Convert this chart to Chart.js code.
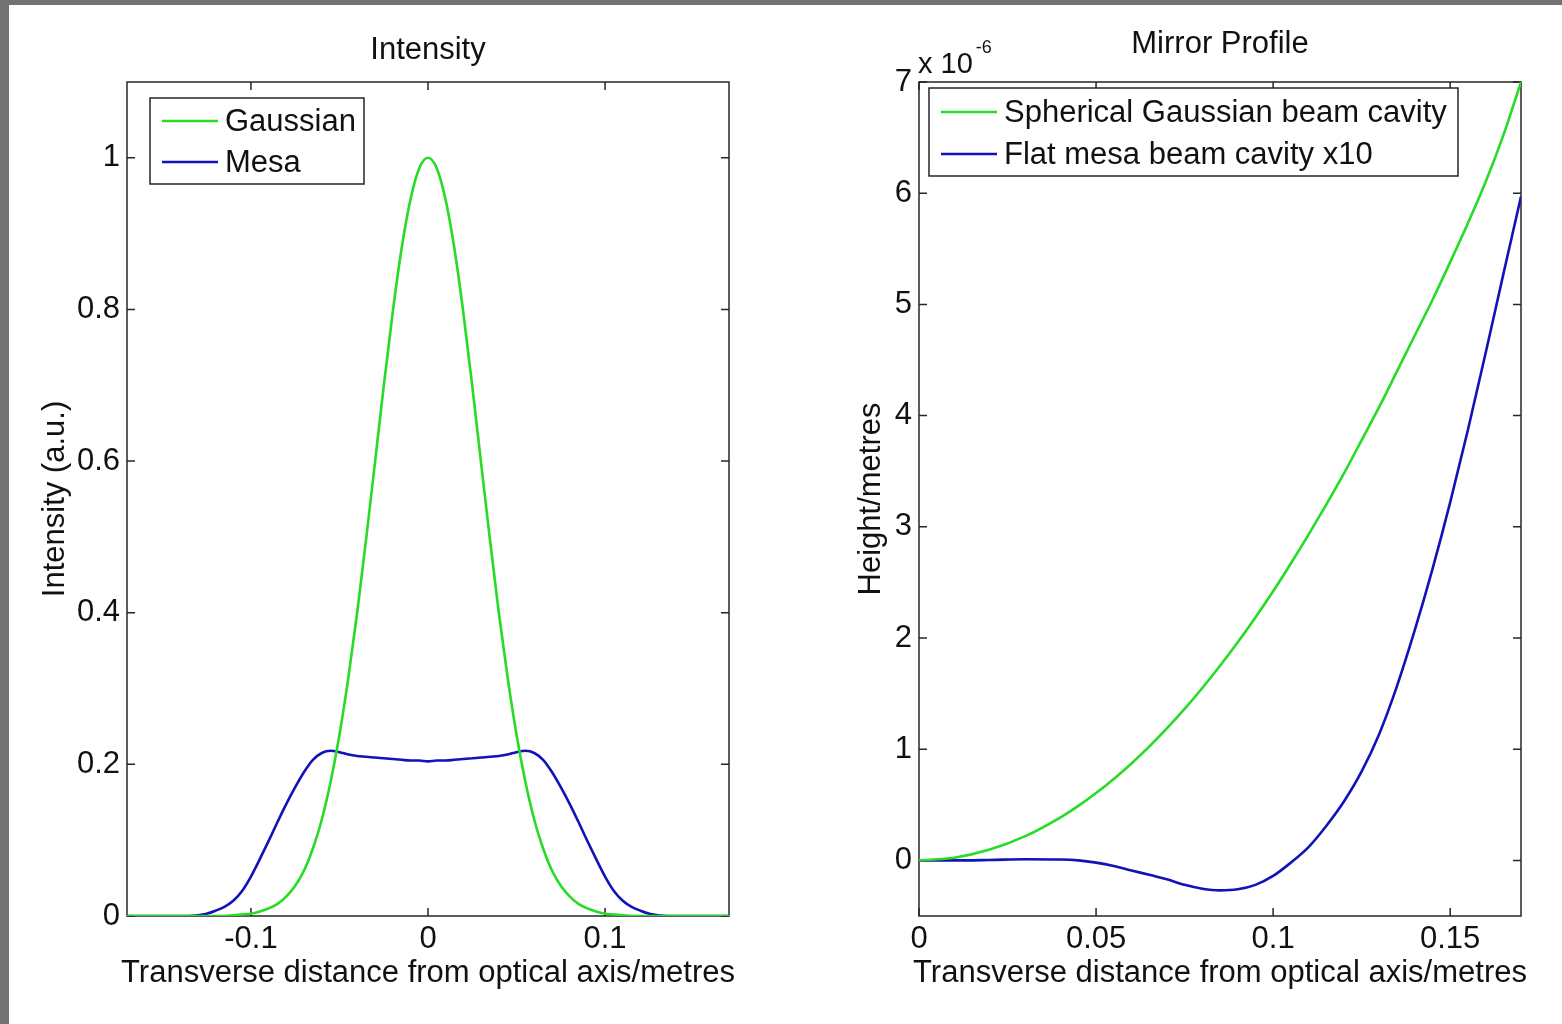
<!DOCTYPE html>
<html>
<head>
<meta charset="utf-8">
<script src="https://cdn.jsdelivr.net/npm/chart.js@4"></script>
<style>
  html, body { margin: 0; padding: 0; background: #727272; width: 1562px; height: 1024px; overflow: hidden; }
  #sheet { position: absolute; left: 9px; top: 5px; right: 0; bottom: 0; background: #fff; }
  canvas { position: absolute; }
</style>
</head>
<body>
<div id="sheet"></div>
<canvas id="intensity" width="770" height="1019" style="left:9px;top:5px"></canvas>
<canvas id="profile" width="782" height="1019" style="left:780px;top:5px"></canvas>
<script>
// left panel: intensity across the beam
const intensityX = [-0.17, -0.15, -0.135, -0.13, -0.125, -0.12, -0.115, -0.11, -0.105, -0.1,
  -0.095, -0.09, -0.085, -0.08, -0.075, -0.07, -0.065, -0.06, -0.055, -0.05,
  -0.045, -0.04, -0.035, -0.03, -0.025, -0.02, -0.015, -0.01, -0.005, 0,
  0.005, 0.01, 0.015, 0.02, 0.025, 0.03, 0.035, 0.04, 0.045, 0.05,
  0.055, 0.06, 0.065, 0.07, 0.075, 0.08, 0.085, 0.09, 0.095, 0.1,
  0.105, 0.11, 0.115, 0.12, 0.125, 0.13, 0.135, 0.15, 0.17];
const gaussian = [0, 0, 0, 0, 0, 0, 0, 0.001, 0.002, 0.003,
  0.006, 0.010, 0.016, 0.026, 0.040, 0.060, 0.089, 0.127, 0.177, 0.239,
  0.314, 0.400, 0.496, 0.597, 0.699, 0.795, 0.879, 0.944, 0.986, 1.000,
  0.986, 0.944, 0.879, 0.795, 0.699, 0.597, 0.496, 0.400, 0.314, 0.239,
  0.177, 0.127, 0.089, 0.060, 0.040, 0.026, 0.016, 0.010, 0.006, 0.003,
  0.002, 0.001, 0, 0, 0, 0, 0, 0, 0];
const mesa = [0, 0, 0, 0.001, 0.003, 0.007, 0.012, 0.020, 0.033, 0.052,
  0.075, 0.099, 0.124, 0.148, 0.170, 0.190, 0.206, 0.215, 0.218, 0.216,
  0.213, 0.211, 0.210, 0.209, 0.208, 0.207, 0.206, 0.205, 0.205, 0.204,
  0.205, 0.205, 0.206, 0.207, 0.208, 0.209, 0.210, 0.211, 0.213, 0.216,
  0.218, 0.215, 0.206, 0.190, 0.170, 0.148, 0.124, 0.099, 0.075, 0.052,
  0.033, 0.020, 0.012, 0.007, 0.003, 0.001, 0, 0, 0];
const intensityXTicks = [-0.1, 0, 0.1];
const intensityYTicks = [0, 0.2, 0.4, 0.6, 0.8, 1];

// right panel: mirror height (units of 1e-6 m)
const profileX = [0, 0.01, 0.02, 0.03, 0.04, 0.045, 0.05, 0.055, 0.06, 0.065,
  0.07, 0.075, 0.08, 0.085, 0.09, 0.095, 0.1, 0.105, 0.11, 0.115,
  0.12, 0.125, 0.13, 0.135, 0.14, 0.145, 0.15, 0.155, 0.16, 0.165, 0.17];
const spherical = [0, 0.024, 0.097, 0.218, 0.388, 0.49, 0.606, 0.733, 0.872, 1.023,
  1.187, 1.362, 1.55, 1.75, 1.962, 2.185, 2.42, 2.67, 2.93, 3.2,
  3.48, 3.78, 4.08, 4.4, 4.72, 5.04, 5.38, 5.73, 6.1, 6.52, 7.0];
const flatMesa = [0, 0, 0.004, 0.01, 0.008, 0, -0.02, -0.05, -0.09, -0.13,
  -0.17, -0.22, -0.255, -0.27, -0.26, -0.22, -0.14, -0.02, 0.12, 0.31,
  0.53, 0.8, 1.14, 1.57, 2.07, 2.62, 3.22, 3.87, 4.56, 5.27, 5.97];
const profileXTicks = [0, 0.05, 0.1, 0.15];
const profileYTicks = [0, 1, 2, 3, 4, 5, 6, 7];

const X_TITLE = 'Transverse distance from optical axis/metres';

const GREEN = 'rgb(38, 220, 38)';
const BLUE = 'rgb(18, 18, 185)';
const FONT = '"Liberation Sans", Arial, sans-serif';
const SIZE = 31;
const INK = '#111';

const pts = (xs, ys) => xs.map((x, i) => ({x: x, y: ys[i]}));

// matlab style box with inward ticks on all four sides
const frame = {
  id: 'frame',
  beforeDatasetsDraw(chart) {
    const {ctx, chartArea: a, scales: {x, y}} = chart;
    ctx.save();
    ctx.strokeStyle = '#262626';
    ctx.lineWidth = 1.5;
    ctx.strokeRect(a.left, a.top, a.right - a.left, a.bottom - a.top);
    ctx.beginPath();
    x.ticks.forEach(t => {
      const px = x.getPixelForValue(t.value);
      ctx.moveTo(px, a.bottom); ctx.lineTo(px, a.bottom - 8);
      ctx.moveTo(px, a.top); ctx.lineTo(px, a.top + 8);
    });
    y.ticks.forEach(t => {
      const py = y.getPixelForValue(t.value);
      ctx.moveTo(a.left, py); ctx.lineTo(a.left + 8, py);
      ctx.moveTo(a.right, py); ctx.lineTo(a.right - 8, py);
    });
    ctx.stroke();
    ctx.restore();
  }
};

// panel title, x axis label (wider than the axes, so not squeezed) and the exponent
const heading = {
  id: 'heading',
  afterDraw(chart, args, o) {
    const {ctx, chartArea: a} = chart;
    const cx = (a.left + a.right) / 2;
    ctx.save();
    ctx.font = SIZE + 'px ' + FONT;
    ctx.fillStyle = INK;
    ctx.textAlign = 'center';
    ctx.textBaseline = 'middle';
    ctx.fillText(o.text, cx, a.top - o.above);
    ctx.fillText(X_TITLE, cx, a.bottom + 57);
    if (o.exponent) {
      ctx.textAlign = 'left';
      ctx.textBaseline = 'alphabetic';
      ctx.font = '29px ' + FONT;
      const base = 'x 10';
      ctx.fillText(base, a.left - 1, a.top - 9);
      const w = ctx.measureText(base).width;
      ctx.font = '18px ' + FONT;
      ctx.fillText(o.exponent, a.left + w + 2, a.top - 29);
    }
    ctx.restore();
  }
};

const boxLegend = {
  id: 'boxLegend',
  afterDatasetsDraw(chart, args, o) {
    const {ctx, chartArea: a} = chart;
    const x0 = a.left + o.dx, y0 = a.top + o.dy;
    ctx.save();
    ctx.fillStyle = '#fff';
    ctx.fillRect(x0, y0, o.w, o.h);
    ctx.strokeStyle = '#262626';
    ctx.lineWidth = 1.5;
    ctx.strokeRect(x0, y0, o.w, o.h);
    ctx.font = SIZE + 'px ' + FONT;
    ctx.textBaseline = 'middle';
    chart.data.datasets.forEach((ds, i) => {
      const cy = y0 + o.first + i * o.row;
      ctx.strokeStyle = ds.borderColor;
      ctx.lineWidth = 2.5;
      ctx.beginPath();
      ctx.moveTo(x0 + 12, cy);
      ctx.lineTo(x0 + 68, cy);
      ctx.stroke();
      ctx.fillStyle = INK;
      ctx.fillText(ds.label, x0 + 75, cy + 1);
    });
    ctx.restore();
  }
};

function makePanel(id, cfg) {
  return new Chart(document.getElementById(id), {
    type: 'line',
    data: {
      datasets: cfg.series.map(s => ({
        label: s.label,
        data: pts(cfg.xs, s.ys),
        borderColor: s.color,
        borderWidth: 2.6,
        pointRadius: 0,
        fill: false,
        cubicInterpolationMode: 'monotone'
      }))
    },
    options: {
      responsive: false,
      animation: false,
      devicePixelRatio: 1,
      layout: { padding: { left: 0, top: 77, right: cfg.padRight, bottom: 0 } },
      plugins: {
        legend: { display: false },
        tooltip: { enabled: false },
        heading: cfg.heading,
        boxLegend: cfg.legend
      },
      scales: {
        x: {
          type: 'linear',
          min: cfg.xMin, max: cfg.xMax,
          grid: { display: false, drawTicks: false },
          border: { display: false },
          afterBuildTicks: s => { s.ticks = cfg.xTicks.map(v => ({value: v})); },
          afterFit: s => { s.height = 108; },
          ticks: {
            autoSkip: false, maxRotation: 0, padding: 5,
            color: INK, font: { family: FONT, size: SIZE },
            callback: v => String(v)
          },
          title: { display: false }
        },
        y: {
          type: 'linear',
          min: cfg.yMin, max: cfg.yMax,
          grid: { display: false, drawTicks: false },
          border: { display: false },
          afterBuildTicks: s => { s.ticks = cfg.yTicks.map(v => ({value: v})); },
          afterFit: s => { s.width = cfg.yWidth; },
          ticks: {
            autoSkip: false, padding: 7,
            color: INK, font: { family: FONT, size: SIZE },
            callback: v => String(v)
          },
          title: {
            display: true, text: cfg.yTitle,
            color: INK, font: { family: FONT, size: SIZE },
            padding: { top: cfg.yTitlePad, bottom: 0 }
          }
        }
      }
    },
    plugins: [frame, heading, boxLegend]
  });
}

makePanel('intensity', {
  xs: intensityX,
  series: [
    { label: 'Gaussian', ys: gaussian, color: GREEN },
    { label: 'Mesa', ys: mesa, color: BLUE }
  ],
  xMin: -0.17, xMax: 0.17, yMin: 0, yMax: 1.1,
  xTicks: intensityXTicks, yTicks: intensityYTicks,
  padRight: 50, yWidth: 118, yTitlePad: 28,
  yTitle: 'Intensity (a.u.)',
  heading: { text: 'Intensity', above: 32 },
  legend: { dx: 23, dy: 16, w: 214, h: 86, first: 23, row: 41 }
});

makePanel('profile', {
  xs: profileX,
  series: [
    { label: 'Spherical Gaussian beam cavity', ys: spherical, color: GREEN },
    { label: 'Flat mesa beam cavity x10', ys: flatMesa, color: BLUE }
  ],
  xMin: 0, xMax: 0.17, yMin: -0.5, yMax: 7,
  xTicks: profileXTicks, yTicks: profileYTicks,
  padRight: 41, yWidth: 139, yTitlePad: 73,
  yTitle: 'Height/metres',
  heading: { text: 'Mirror Profile', above: 38, exponent: '-6' },
  legend: { dx: 10, dy: 6, w: 529, h: 88, first: 24, row: 42 }
});
</script>
</body>
</html>
